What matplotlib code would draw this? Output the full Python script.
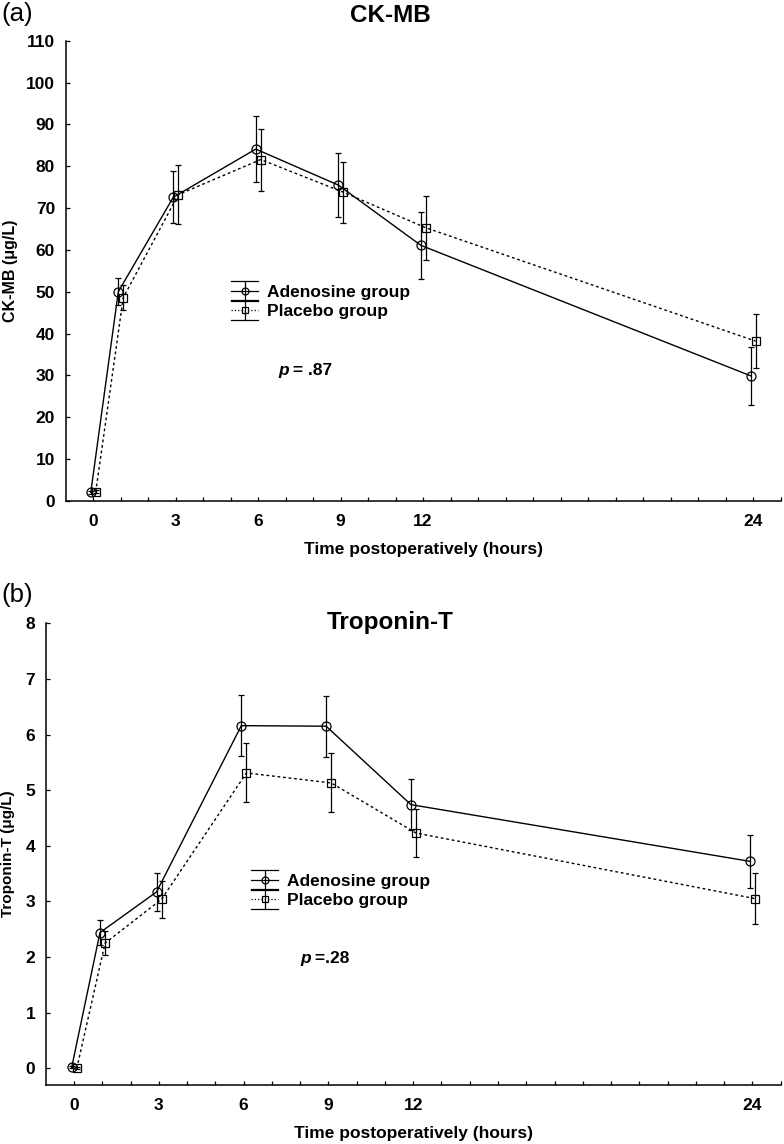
"""
Cardiac markers after surgery: CK-MB and Troponin-T, adenosine vs placebo.
Two stacked panels, mean +/- error bars per time point.
"""

import matplotlib
matplotlib.use("Agg")
import matplotlib.pyplot as plt
from matplotlib.legend_handler import HandlerBase
from matplotlib.lines import Line2D
import numpy as np

plt.rcParams["font.family"] = ["Liberation Sans", "DejaVu Sans"]

# time points (hours after surgery)
HOURS = [0, 1, 3, 6, 9, 12, 24]
TICK_HOURS = [0, 3, 6, 9, 12, 24]

# CK-MB (ug/L)
ckmb_adeno = [2.1, 50.0, 72.6, 84.1, 75.5, 61.1, 29.9]
ckmb_adeno_err = [0.4, 3.2, 6.2, 7.9, 7.7, 8.0, 6.9]
ckmb_plac = [2.2, 48.6, 73.2, 81.6, 73.8, 65.3, 38.2]
ckmb_plac_err = [0.4, 2.9, 7.0, 7.4, 7.3, 7.6, 6.5]

# Troponin-T (ug/L)
trop_adeno = [0.02, 2.44, 3.17, 6.16, 6.15, 4.74, 3.72]
trop_adeno_err = [0.02, 0.22, 0.34, 0.55, 0.55, 0.46, 0.48]
trop_plac = [0.0, 2.25, 3.04, 5.31, 5.13, 4.23, 3.05]
trop_plac_err = [0.02, 0.21, 0.33, 0.53, 0.53, 0.44, 0.46]

DODGE_A = -0.08
DODGE_P = 0.10


class CapHandle(HandlerBase):
    """Legend key: line + marker with a full-width error bar."""

    def __init__(self, marker, ls, ms):
        super().__init__()
        self.marker = marker
        self.ls = ls
        self.ms = ms

    def create_artists(self, legend, orig_handle, xdescent, ydescent,
                       width, height, fontsize, trans):
        x0 = -xdescent
        x1 = x0 + width
        xm = (x0 + x1) / 2
        ym = -ydescent + height / 2
        cap = 0.55 * fontsize
        arts = [
            Line2D([x0, x1], [ym, ym], ls=self.ls, lw=0.9, color="k"),
            Line2D([x0, x1], [ym + cap, ym + cap], lw=0.9, color="k"),
            Line2D([x0, x1], [ym - cap, ym - cap], lw=0.9, color="k"),
            Line2D([xm, xm], [ym - cap, ym + cap], lw=0.9, color="k"),
            Line2D([xm], [ym], marker=self.marker, ms=self.ms, mfc="none",
                   mec="k", mew=0.9, ls="none"),
        ]
        for a in arts:
            a.set_transform(trans)
        return arts


def style_axis(ax, ylim, yticks):
    ax.set_xlim(-1, 25)
    ax.set_ylim(*ylim)
    ax.set_xticks(np.arange(0, 26))
    ax.set_xticklabels([str(h) if h in TICK_HOURS else "" for h in range(26)])
    ax.set_yticks(yticks)
    ax.spines["top"].set_visible(False)
    ax.spines["right"].set_visible(False)
    for s in ("left", "bottom"):
        ax.spines[s].set_linewidth(1.1)
    ax.tick_params(direction="in", length=3, width=0.9, labelsize=12.5, pad=7.5)
    ax.tick_params(axis="x", pad=9)
    for lab in ax.get_xticklabels() + ax.get_yticklabels():
        lab.set_fontweight("bold")


def draw_panel(ax, adeno, adeno_err, plac, plac_err):
    t = np.array(HOURS, dtype=float)
    ca = ax.errorbar(t + DODGE_A, adeno, yerr=adeno_err, color="k", lw=1.0,
                     ls="-", marker="o", ms=6.5, mfc="none", mew=0.9,
                     elinewidth=0.9, capsize=2.2, capthick=0.9)
    cp = ax.errorbar(t + DODGE_P, plac, yerr=plac_err, color="k", lw=1.0,
                     ls=(0, (2, 2)), marker="s", ms=6, mfc="none", mew=0.9,
                     elinewidth=0.9, capsize=2.2, capthick=0.9)
    return ca, cp


fig = plt.figure(figsize=(7.84, 11.44), dpi=100)
W, H = 784.0, 1144.0

# ---- panel (a) CK-MB ----
ax1 = fig.add_axes([65.5 / W, 1 - 501 / H, 715 / W, 460.3 / H])
ca, cp = draw_panel(ax1, ckmb_adeno, ckmb_adeno_err, ckmb_plac, ckmb_plac_err)
style_axis(ax1, (0, 110), np.arange(0, 111, 10))
ax1.set_xlabel("Time postoperatively (hours)", fontsize=12.5, fontweight="bold",
               labelpad=10)
ax1.set_ylabel("CK-MB (\u03bcg/L)", fontsize=11.5, fontweight="bold")
ax1.yaxis.set_label_coords(18 / W, 1 - 271 / H, transform=fig.transFigure)
ax1.legend([ca, cp], ["Adenosine group", "Placebo group"],
           handler_map={ca: CapHandle("o", "-", 5), cp: CapHandle("s", ":", 5)},
           loc="center left", bbox_to_anchor=(222 / W, 1 - 302 / H),
           bbox_transform=fig.transFigure, frameon=False, borderpad=0,
           handlelength=1.6, handletextpad=0.5, labelspacing=0.25,
           prop={"size": 12.5, "weight": "bold"})
ax1.text(6.75, 31.3, "p", fontsize=12.5, fontweight="bold", style="italic",
         va="center", ha="left")
ax1.annotate(" = .87", xy=(6.75, 31.3), xytext=(7, 0),
             textcoords="offset points", fontsize=12.5, fontweight="bold",
             va="center", ha="left")
fig.text(390 / W, 1 - 15 / H, "CK-MB", fontsize=17.5, fontweight="bold",
         ha="center", va="center")
fig.text(1 / W, 1 - 14 / H, "(a)", fontsize=18.5, ha="left", va="center")

# ---- panel (b) Troponin-T ----
ax2 = fig.add_axes([45.7 / W, 1 - 1085 / H, 735 / W, 461.7 / H])
ca2, cp2 = draw_panel(ax2, trop_adeno, trop_adeno_err, trop_plac, trop_plac_err)
style_axis(ax2, (-0.3, 8), np.arange(0, 9, 1))
ax2.set_xlabel("Time postoperatively (hours)", fontsize=12.5, fontweight="bold",
               labelpad=10)
ax2.set_ylabel("Troponin-T (\u03bcg/L)", fontsize=11, fontweight="bold")
ax2.yaxis.set_label_coords(15 / W, 1 - 854 / H, transform=fig.transFigure)
ax2.legend([ca2, cp2], ["Adenosine group", "Placebo group"],
           handler_map={ca2: CapHandle("o", "-", 5), cp2: CapHandle("s", ":", 5)},
           loc="center left", bbox_to_anchor=(242 / W, 1 - 891 / H),
           bbox_transform=fig.transFigure, frameon=False, borderpad=0,
           handlelength=1.6, handletextpad=0.5, labelspacing=0.25,
           prop={"size": 12.5, "weight": "bold"})
ax2.text(8.0, 1.98, "p", fontsize=12.5, fontweight="bold", style="italic",
         va="center", ha="left")
ax2.annotate(" =.28", xy=(8.0, 1.98), xytext=(7, 0),
             textcoords="offset points", fontsize=12.5, fontweight="bold",
             va="center", ha="left")
fig.text(390 / W, 1 - 622 / H, "Troponin-T", fontsize=17.5, fontweight="bold",
         ha="center", va="center")
fig.text(1 / W, 1 - 595 / H, "(b)", fontsize=18.5, ha="left", va="center")

fig.savefig("out.png", dpi=100)
